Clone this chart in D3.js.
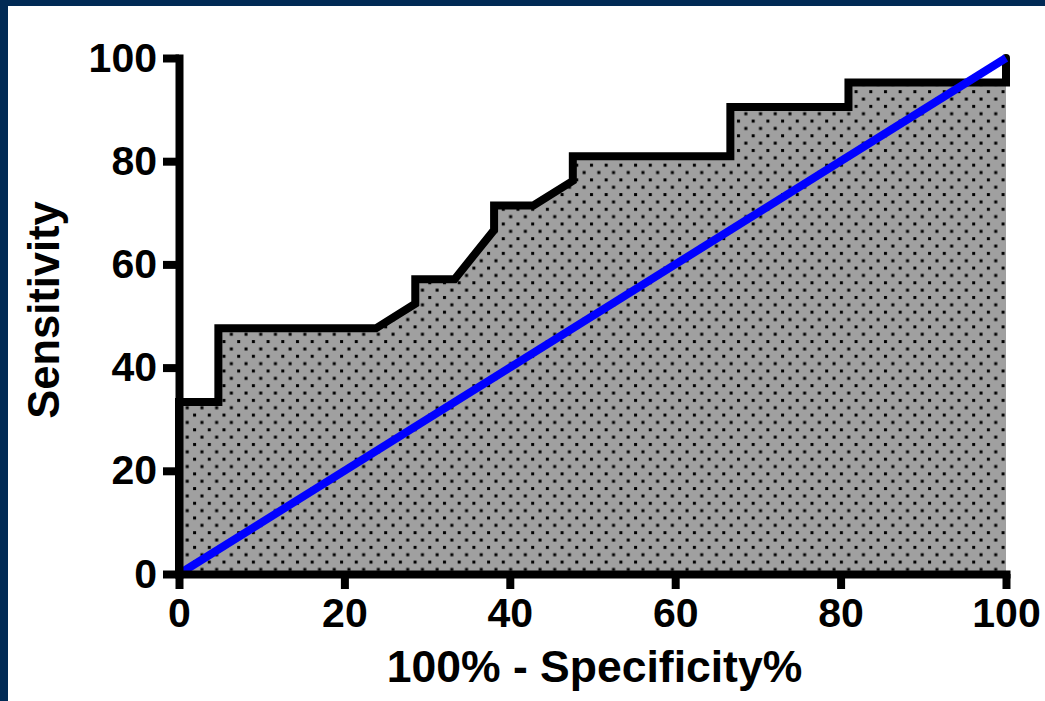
<!DOCTYPE html>
<html>
<head>
<meta charset="utf-8">
<script src="https://cdn.jsdelivr.net/npm/d3@7"></script>
<style>
  html, body { margin: 0; padding: 0; background: #ffffff; }
  svg { display: block; }
  text { font-family: "Liberation Sans", Arial, sans-serif; font-weight: bold; fill: #000; }
</style>
</head>
<body>
<svg id="chart" width="1045" height="701"></svg>
<script>
// ROC curve data (100% - Specificity%, Sensitivity%)
const fpr = [0, 0, 4.76, 4.76, 23.81, 28.57, 28.57, 33.33, 38.10, 38.10, 42.86, 47.62, 47.62, 66.67, 66.67, 80.95, 80.95, 100, 100];
const tpr = [0, 33.33, 33.33, 47.62, 47.62, 52.38, 57.14, 57.14, 66.67, 71.43, 71.43, 76.19, 80.95, 80.95, 90.48, 90.48, 95.24, 95.24, 100];
// Reference (chance) line
const refX = [0, 100];
const refY = [0, 100];
const xTicks = [0, 20, 40, 60, 80, 100];
const yTicks = [0, 20, 40, 60, 80, 100];
const xTitle = "100% - Specificity%";
const yTitle = "Sensitivity";

const svg = d3.select("#chart");
const W = 1045, H = 701;

// navy frame (left & top)
svg.append("rect").attr("x", 0).attr("y", 0).attr("width", W).attr("height", H).attr("fill", "#ffffff");
svg.append("rect").attr("x", 0).attr("y", 0).attr("width", 8).attr("height", H).attr("fill", "#012a55");
svg.append("rect").attr("x", 0).attr("y", 0).attr("width", W).attr("height", 6).attr("fill", "#012a55");

const x = d3.scaleLinear().domain([0, 100]).range([179, 1006]);
const y = d3.scaleLinear().domain([0, 100]).range([574, 58]);

// dotted pattern
const defs = svg.append("defs");
const pat = defs.append("pattern")
  .attr("id", "dots").attr("patternUnits", "userSpaceOnUse")
  .attr("x", 0).attr("y", 0)
  .attr("width", 14.7).attr("height", 14.7);
pat.append("rect").attr("width", 14.7).attr("height", 14.7).attr("fill", "#a0a0a0");
pat.append("rect").attr("x", 2).attr("y", 2).attr("width", 3).attr("height", 3).attr("fill", "#000");
pat.append("rect").attr("x", 9.35).attr("y", 9.35).attr("width", 3).attr("height", 3).attr("fill", "#000");

const pts = fpr.map((v, i) => [v, tpr[i]]);

const area = d3.area().x(d => x(d[0])).y0(y(0)).y1(d => y(d[1]));
svg.append("path").datum(pts).attr("d", area).attr("fill", "url(#dots)");

const line = d3.line().x(d => x(d[0])).y(d => y(d[1]));
svg.append("path").datum(pts).attr("d", line)
  .attr("fill", "none").attr("stroke", "#000").attr("stroke-width", 8)
  .attr("stroke-linejoin", "miter").attr("stroke-linecap", "round");

svg.append("path").datum(refX.map((v, i) => [v, refY[i]])).attr("d", line)
  .attr("fill", "none").attr("stroke", "#0000ff").attr("stroke-width", 8);

// axes
const xAxis = d3.axisBottom(x).tickValues(xTicks).tickFormat(d3.format("d"))
  .tickSizeInner(15).tickSizeOuter(0).tickPadding(9);
const yAxis = d3.axisLeft(y).tickValues(yTicks).tickFormat(d3.format("d"))
  .tickSizeInner(16).tickSizeOuter(0).tickPadding(6);

const gx = svg.append("g").attr("transform", `translate(0,${y(0)})`).call(xAxis);
const gy = svg.append("g").attr("transform", `translate(${x(0)},0)`).call(yAxis);

[gx, gy].forEach(g => {
  g.select(".domain").attr("stroke", "#000").attr("stroke-width", 8).attr("stroke-linecap", "square");
  g.selectAll(".tick line").attr("stroke", "#000").attr("stroke-width", 8);
  g.selectAll(".tick text").attr("font-size", 41).attr("font-family", "Liberation Sans, Arial, sans-serif")
    .attr("font-weight", "bold").attr("fill", "#000");
});

// titles
svg.append("text").attr("x", (x(0) + x(100)) / 2 + 2).attr("y", 682)
  .attr("text-anchor", "middle").attr("font-size", 44.5).text(xTitle);
svg.append("text")
  .attr("transform", `translate(59,${(y(0) + y(100)) / 2 - 6}) rotate(-90)`)
  .attr("text-anchor", "middle").attr("font-size", 43.5).text(yTitle);
</script>
</body>
</html>
